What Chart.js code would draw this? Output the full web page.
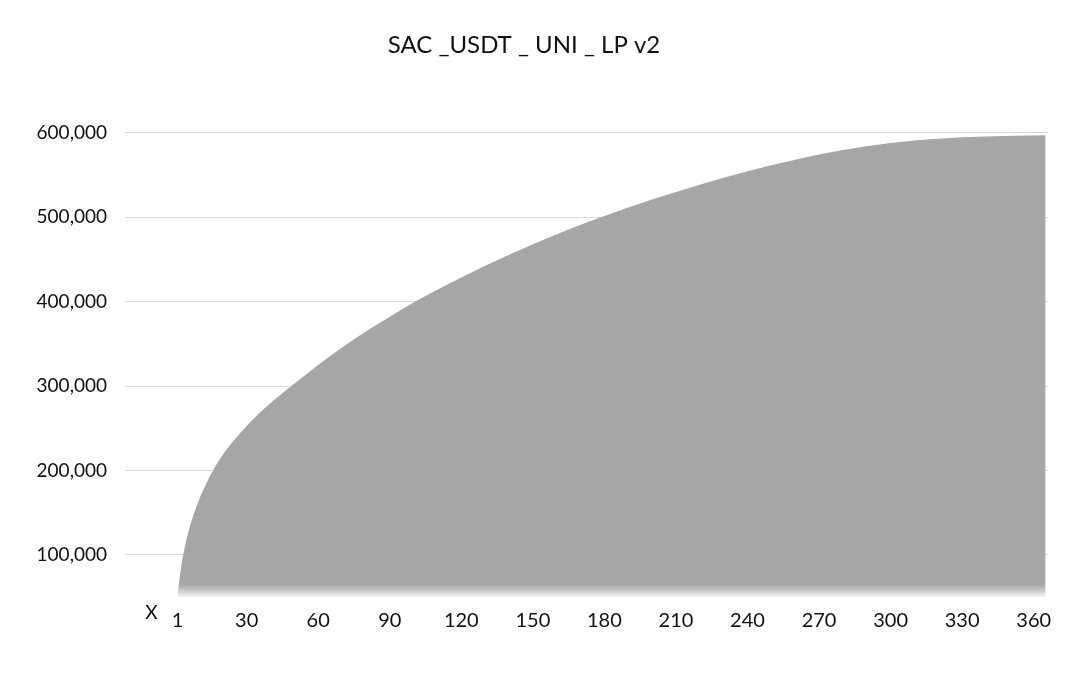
<!DOCTYPE html>
<html>
<head>
<meta charset="utf-8">
<script src="https://cdn.jsdelivr.net/npm/chart.js@4/dist/chart.umd.min.js"></script>
<style>
  body { margin: 0; background: #fff; }
  #wrap { width: 1080px; height: 674px; }
</style>
</head>
<body>
<div id="wrap"><canvas id="chart"></canvas></div>
<script>
// data (day, value)
var days   = [1, 2, 3, 4, 6, 8, 10, 13, 16, 20, 25, 30, 35, 42, 49, 60, 70, 80, 90, 100,
              115, 130, 150, 165, 180, 200, 220, 240, 260, 280, 300, 320, 340, 365];
var values = [50000, 75000, 93500, 108500, 131500, 149500, 165000, 184000, 200500,
              218500, 236500, 252500, 267000, 284500, 300500, 325000, 345500, 364500,
              382000, 399000, 421500, 442500, 468000, 485500, 501500, 521000, 538500,
              554500, 568000, 579500, 588000, 593000, 595500, 597000];

var xTicks = [1, 30, 60, 90, 120, 150, 180, 210, 240, 270, 300, 330, 360];
var yTicks = [100000, 200000, 300000, 400000, 500000, 600000];
var xMark = 'X';
var title = 'SAC _USDT _ UNI _ LP v2';

var fillColor = '#a6a6a6';
var textColor = '#111111';
var fontFamily = 'Lato, "Open Sans", sans-serif';

var points = days.map(function (d, i) { return { x: d, y: values[i] }; });

var xMarkPlugin = {
  id: 'xMark',
  afterDraw: function (chart) {
    var ctx = chart.ctx;
    var sx = chart.scales.x;
    ctx.save();
    ctx.font = '19px ' + fontFamily;
    ctx.fillStyle = textColor;
    ctx.textAlign = 'center';
    ctx.textBaseline = 'middle';
    ctx.fillText(xMark, sx.getPixelForValue(xTicks[0]) - 26, chart.chartArea.bottom + 16);
    ctx.restore();
  }
};

var ctx = document.getElementById('chart').getContext('2d');
var myChart = new Chart(ctx, {
  type: 'line',
  data: {
    datasets: [{
      data: points,
      fill: 'start',
      borderWidth: 0,
      pointRadius: 0,
      cubicInterpolationMode: 'monotone',
      backgroundColor: function (context) {
        var area = context.chart.chartArea;
        if (!area) return fillColor;
        var g = context.chart.ctx.createLinearGradient(0, area.bottom - 12, 0, area.bottom);
        g.addColorStop(0, fillColor);
        g.addColorStop(1, '#f4f4f4');
        return g;
      }
    }]
  },
  options: {
    responsive: true,
    maintainAspectRatio: false,
    animation: false,
    layout: { padding: { left: 0, right: 32, top: 0, bottom: 0 } },
    plugins: {
      legend: { display: false },
      tooltip: { enabled: false },
      title: {
        display: true,
        text: title,
        color: textColor,
        font: { family: fontFamily, size: 24, weight: 'normal' },
        padding: { top: 31, bottom: 73 }
      }
    },
    scales: {
      x: {
        type: 'linear',
        min: -21,
        max: 366,
        grid: { display: false },
        border: { display: false },
        afterBuildTicks: function (scale) {
          scale.ticks = xTicks.map(function (v) { return { value: v }; });
        },
        afterFit: function (scale) { scale.height = 77; },
        ticks: {
          autoSkip: false,
          maxRotation: 0,
          padding: 4,
          color: textColor,
          font: { family: fontFamily, size: 20 }
        }
      },
      y: {
        type: 'linear',
        min: 50000,
        max: 600000,
        grid: { color: '#d9d9d9', drawTicks: false, lineWidth: 1 },
        border: { display: false },
        afterBuildTicks: function (scale) {
          scale.ticks = yTicks.map(function (v) { return { value: v }; });
        },
        afterFit: function (scale) { scale.width = 125; },
        ticks: {
          padding: 18,
          color: textColor,
          font: { family: fontFamily, size: 19 },
          callback: function (v) { return v.toLocaleString('en-US'); }
        }
      }
    }
  },
  plugins: [xMarkPlugin]
});
</script>
</body>
</html>
